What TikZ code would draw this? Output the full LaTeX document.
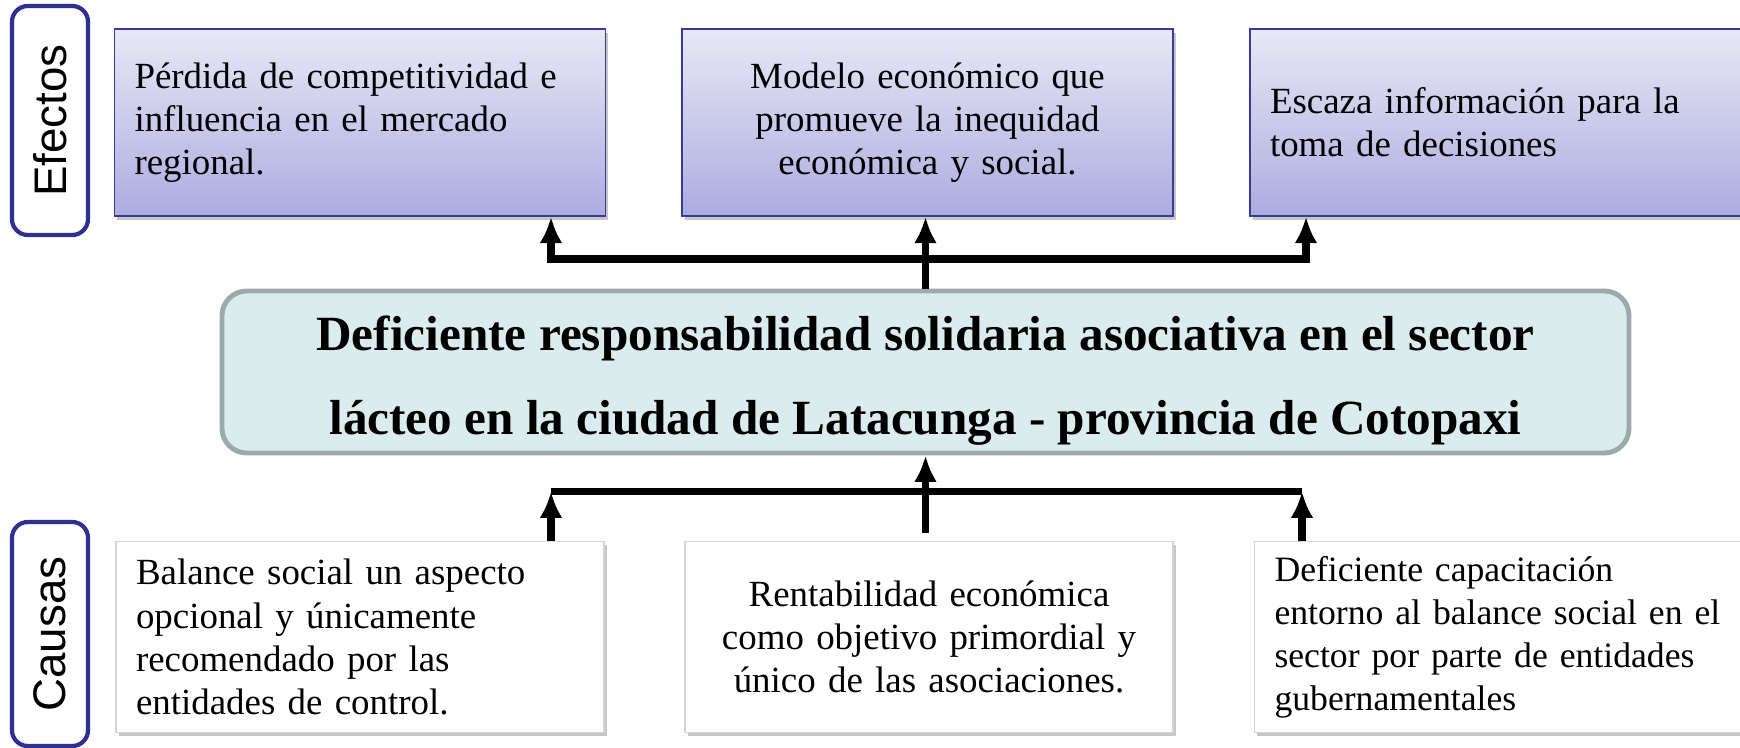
\documentclass[tikz,border=0pt]{standalone}
\usepackage{fontspec}
\setmainfont{Liberation Serif}
\newfontfamily\labelfont{Liberation Sans}
\usepackage{tikz}
\usetikzlibrary{shapes, calc, arrows.meta, shadows}

\definecolor{navy}{HTML}{2E3192}
\definecolor{efftop}{HTML}{E8E8F6}
\definecolor{effbottom}{HTML}{ACACE0}
\definecolor{effborder}{HTML}{3A3A98}
\definecolor{probfill}{HTML}{DAECEE}
\definecolor{probborder}{HTML}{9BAAAA}
\definecolor{causeborder}{HTML}{D4D4D4}

\begin{document}
\begin{tikzpicture}
		\tikzstyle{box}=[rectangle, draw, inner sep=0.4cm, font=\fontsize{21}{24.5}\selectfont,
			drop shadow={shadow xshift=1.5pt, shadow yshift=-2pt, opacity=0.45, fill=gray}]
		\tikzstyle{effect}=[box, draw=effborder, line width=0.8pt, top color=efftop,
			bottom color=effbottom, minimum width=9.82cm, minimum height=3.74cm, text width=9.02cm]
		\tikzstyle{cause}=[box, draw=causeborder, line width=0.6pt, fill=white, inner ysep=0.2cm,
			minimum width=9.76cm, minimum height=3.82cm, text width=8.96cm]
		\tikzstyle{problem}=[rectangle, rounded corners=14pt, draw=probborder, line width=2.8pt,
			fill=probfill, minimum width=28.14cm, minimum height=3.24cm, align=center,
			font=\fontsize{28}{48}\selectfont\bfseries]
		\tikzstyle{sidelabel}=[rectangle, rounded corners=9pt, draw=navy, line width=2.4pt,
			rotate=90, minimum height=1.52cm, font=\labelfont\fontsize{26}{30}\selectfont]
		\tikzstyle{link}=[line width=4pt, -{Latex[length=15pt, width=13pt]}]
		\tikzstyle{bar}=[line width=4pt]

		\useasboundingbox (0,0) rectangle (34.8,-14.96);

		\node[sidelabel, minimum width=4.58cm] (efectos) at (1.0,-2.41) {Efectos};
		\node[sidelabel, minimum width=4.48cm] (causas) at (1.0,-12.68) {Causas};

		\node[effect, align=left] (eff1) at (7.2,-2.45) {
			Pérdida de competitividad e\\ influencia en el mercado\\ regional.
		};

		\node[effect, align=center, right of=eff1, xshift=10.35cm] (eff2) {
			Modelo económico que\\ promueve la inequidad\\ económica y social.
		};

		\node[effect, align=left, right of=eff2, xshift=10.36cm] (eff3) {
			Escaza información para la\\ toma de decisiones
		};

		\node[problem, below of=eff2, yshift=-3.99cm, xshift=-0.04cm] (problem) {
			\rule{0pt}{1.05cm}Deficiente responsabilidad solidaria asociativa en el sector\\
			lácteo en la ciudad de Latacunga - provincia de Cotopaxi
		};

		\node[cause, align=center, below of=problem, yshift=-4.3cm, xshift=0.07cm] (cause2) {
			Rentabilidad económica\\ como objetivo primordial y\\ único de las asociaciones.
		};

		\node[cause, align=left, left of=cause2, xshift=-10.38cm] (cause1) {
			Balance social un aspecto\\ opcional y únicamente\\ recomendado por las\\ entidades de control.
		};

		\node[cause, align=left, text width=9.4cm, right of=cause2, xshift=10.61cm,
			font=\fontsize{20.3}{24.5}\selectfont] (cause3) {
			Deficiente capacitación\\ entorno al balance social en el\\ sector por parte de entidades\\ gubernamentales
		};

		% efectos
		\coordinate (topL) at (11.02,-5.18);
		\coordinate (topR) at (26.12,-5.18);
		\draw[link, {Latex[length=15pt, width=13pt]}-{Latex[length=15pt, width=13pt]}]
			(topL |- eff1.south) -- (topL) -- (topR) -- (topR |- eff3.south);
		\draw[link] (problem.north) -- (problem.north |- eff2.south);

		% causas
		\coordinate (botL) at (11.02,-9.83);
		\coordinate (botR) at (26.04,-9.83);
		\draw[bar] (botL) -- (botR);
		\draw[link] (botL |- cause1.north) -- (botL);
		\draw[link] (botR |- cause3.north) -- (botR);
		\draw[link] ($(problem.south |- cause2.north)+(0,0.16)$) -- (problem.south);

	\end{tikzpicture}
\end{document}
